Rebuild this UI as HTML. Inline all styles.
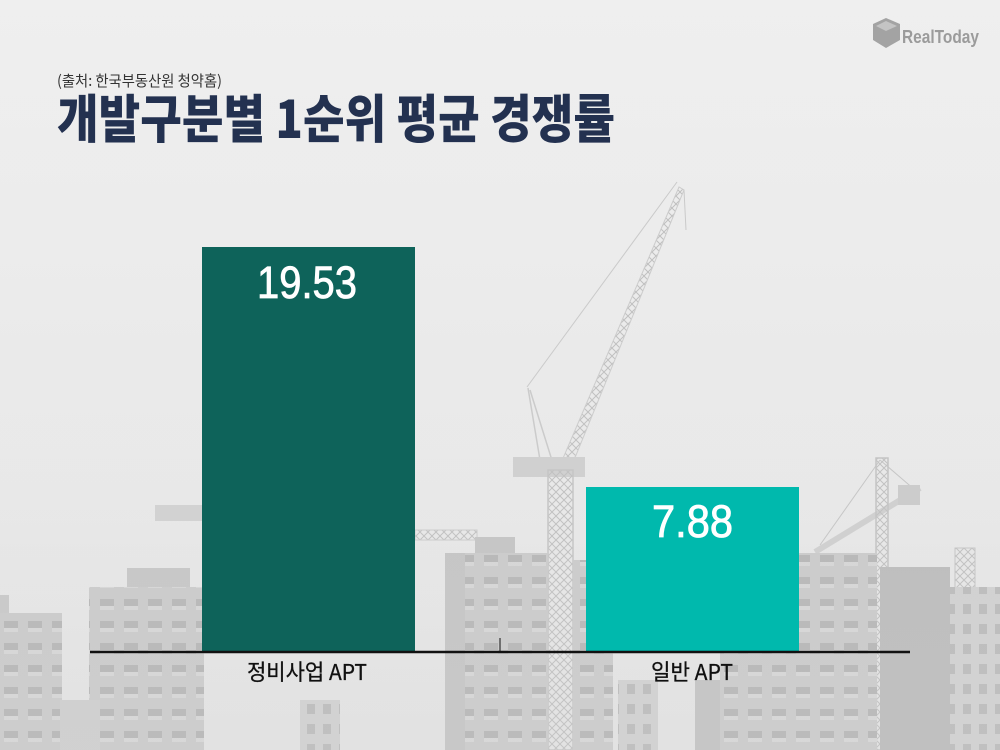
<!DOCTYPE html>
<html><head><meta charset="utf-8"><style>
html,body{margin:0;padding:0;background:#ebebeb;}
svg{display:block;}
text{font-family:"Liberation Sans","Noto Sans CJK KR",sans-serif;}
.kr{font-family:"Noto Sans CJK KR","Liberation Sans",sans-serif;}
</style></head><body>
<svg width="1000" height="750" viewBox="0 0 1000 750" xmlns="http://www.w3.org/2000/svg">
<defs>
<linearGradient id="bg" x1="0" y1="0" x2="0" y2="1">
<stop offset="0" stop-color="#efefef"/><stop offset="0.6" stop-color="#e9e9e9"/><stop offset="1" stop-color="#e0e0e0"/>
</linearGradient>
<linearGradient id="fade" x1="0" y1="0" x2="0" y2="1">
<stop offset="0" stop-color="#ebebeb" stop-opacity="0"/><stop offset="1" stop-color="#ebebeb" stop-opacity="0.15"/>
</linearGradient>
<pattern id="win" width="24" height="22" patternUnits="userSpaceOnUse">
<rect width="24" height="22" fill="#c8c8c8"/>
<rect x="4" y="5" width="14" height="11" fill="#b3b3b3"/>
<rect x="4" y="12" width="14" height="4" fill="#d4d4d4"/>
</pattern>
<pattern id="win2" width="16" height="20" patternUnits="userSpaceOnUse">
<rect width="16" height="20" fill="#cecece"/>
<rect x="3" y="4" width="8" height="10" fill="#b8b8b8"/>
</pattern>
<pattern id="lat" width="8" height="8" patternUnits="userSpaceOnUse">
<rect width="8" height="8" fill="none"/>
<path d="M0 0L8 8M8 0L0 8" stroke="#bdbdbd" stroke-width="1"/>
</pattern>
</defs>
<rect width="1000" height="750" fill="url(#bg)"/>

<!-- cranes -->
<g stroke="#c8c8c8" fill="none">
<line x1="527" y1="387" x2="677" y2="182" stroke-width="1"/>
<polygon points="558,470 570,470 684,190 679,187" fill="url(#lat)" stroke="#cacaca" stroke-width="1"/>
<line x1="684" y1="190" x2="686" y2="230" stroke-width="1"/>
<line x1="528" y1="388" x2="540" y2="460" stroke-width="1.5"/>
<line x1="530" y1="390" x2="555" y2="470" stroke-width="1.5"/>
</g>
<rect x="513" y="457" width="72" height="20" fill="#cdcdcd"/>
<rect x="548" y="470" width="25" height="280" fill="url(#lat)" stroke="#c2c2c2" stroke-width="1.5"/>
<rect x="155" y="505" width="47" height="16" fill="#cfcfcf"/>
<rect x="415" y="530" width="62" height="10" fill="url(#lat)" stroke="#c8c8c8"/>
<g stroke="#c2c2c2" fill="none">
<line x1="815" y1="552" x2="920" y2="488" stroke-width="6" stroke-opacity="0.7"/>
<line x1="820" y1="545" x2="880" y2="460" stroke-width="1"/>
<line x1="880" y1="460" x2="915" y2="490" stroke-width="1"/>
</g>
<rect x="876" y="458" width="12" height="292" fill="url(#lat)" stroke="#c0c0c0" stroke-width="1.5"/>
<rect x="898" y="485" width="22" height="20" fill="#c9c9c9"/>

<!-- buildings -->
<rect x="0" y="595" width="9" height="20" fill="#c6c6c6"/>
<rect x="0" y="613" width="62" height="137" fill="url(#win)"/>
<rect x="127" y="568" width="63" height="20" fill="#c4c4c4"/>
<rect x="89" y="587" width="115" height="163" fill="url(#win)"/>
<rect x="60" y="700" width="40" height="50" fill="#cccccc"/>
<rect x="300" y="700" width="40" height="50" fill="url(#win2)"/>
<rect x="475" y="537" width="40" height="18" fill="#c2c2c2"/>
<rect x="445" y="553" width="103" height="197" fill="url(#win)"/>
<rect x="445" y="553" width="20" height="197" fill="#c2c2c2"/>
<rect x="573" y="560" width="40" height="190" fill="url(#win)"/>
<rect x="618" y="680" width="40" height="70" fill="url(#win2)"/>
<rect x="695" y="680" width="25" height="70" fill="#c0c0c0"/>
<rect x="720" y="640" width="80" height="110" fill="url(#win)"/>
<rect x="797" y="553" width="80" height="197" fill="url(#win)"/>
<rect x="880" y="567" width="70" height="183" fill="#b9b9b9"/>
<rect x="955" y="548" width="20" height="40" fill="url(#lat)" stroke="#c0c0c0"/>
<rect x="950" y="587" width="50" height="163" fill="url(#win2)"/>
<rect x="0" y="0" width="1000" height="750" fill="url(#fade)"/>

<!-- logo -->
<g fill="#a3a3a3">
<polygon points="873,24 886,18 900,24 900,40 886,48 873,40"/>
<polygon points="876,26 886,21 897,26 886,31" fill="#c4c4c4"/>
</g>
<text x="902" y="43" font-size="18" font-weight="bold" fill="#9b9b9b" textLength="77" lengthAdjust="spacingAndGlyphs">RealToday</text>

<!-- titles -->
<text class="kr" x="57" y="86" font-size="15" fill="#333" textLength="165" lengthAdjust="spacingAndGlyphs">(출처: 한국부동산원 청약홈)</text>
<text class="kr" x="57" y="138" font-size="52" font-weight="900" fill="#233150" textLength="558" lengthAdjust="spacingAndGlyphs">개발구분별 1순위 평균 경쟁률</text>

<!-- bars -->
<rect x="202" y="247" width="213" height="405" fill="#0e635a"/>
<rect x="586" y="487" width="213" height="165" fill="#00b9ad"/>
<text x="257" y="298" font-size="45" fill="#fff" stroke="#fff" stroke-width="0.8" textLength="100" lengthAdjust="spacingAndGlyphs">19.53</text>
<text x="652" y="537" font-size="45" fill="#fff" stroke="#fff" stroke-width="0.8" textLength="81" lengthAdjust="spacingAndGlyphs">7.88</text>

<!-- axis -->
<line x1="90" y1="652" x2="910" y2="652" stroke="#111" stroke-width="2.5"/>
<line x1="500" y1="638" x2="500" y2="652" stroke="#111" stroke-width="1"/>

<text class="kr" x="247" y="680" font-size="22" fill="#111" stroke="#111" stroke-width="0.3" textLength="120" lengthAdjust="spacingAndGlyphs">정비사업 APT</text>
<text class="kr" x="651" y="680" font-size="22" fill="#111" stroke="#111" stroke-width="0.3" textLength="82" lengthAdjust="spacingAndGlyphs">일반 APT</text>
</svg>
</body></html>
